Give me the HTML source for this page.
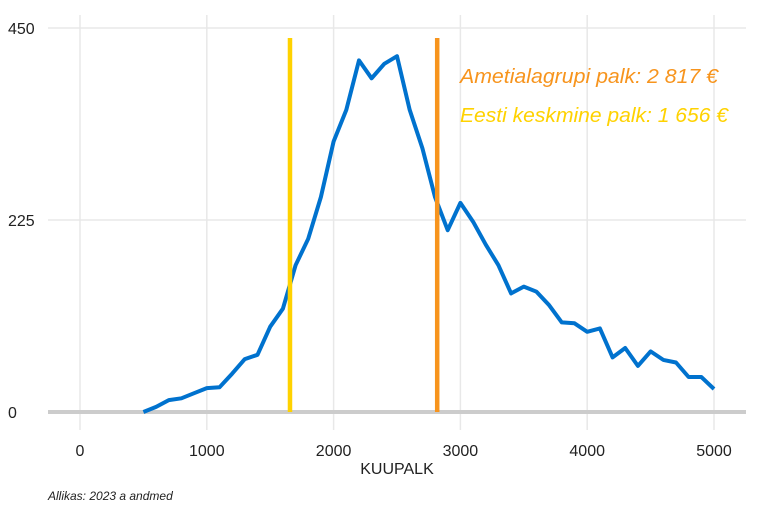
<!DOCTYPE html>
<html><head><meta charset="utf-8"><style>
body{margin:0;background:#fff;font-family:"Liberation Sans",sans-serif}
svg text{font-family:"Liberation Sans",sans-serif}
</style></head><body>
<svg width="768" height="512">
<g id="grid"></g><g id="marks"></g>
<text x="397" y="474" text-anchor="middle" font-size="16" fill="#222">KUUPALK</text>
<text x="48" y="500" font-size="12" font-style="italic" fill="#222">Allikas: 2023 a andmed</text>
<text x="460" y="83" font-size="20" font-style="italic" fill="#f7941d" textLength="258" lengthAdjust="spacingAndGlyphs">Ametialagrupi palk: 2 817 €</text>
<text x="460" y="122" font-size="20" font-style="italic" fill="#ffd200" textLength="268" lengthAdjust="spacingAndGlyphs">Eesti keskmine palk: 1 656 €</text>
</svg>
<script>
const xVals=[500,600,700,800,900,1000,1100,1200,1300,1400,1500,1600,1700,1800,1900,2000,2100,2200,2300,2400,2500,2600,2700,2800,2900,3000,3100,3200,3300,3400,3500,3600,3700,3800,3900,4000,4100,4200,4300,4400,4500,4600,4700,4800,4900,5000];
const counts=[0,6,14,16,22,28,29,45,62,67,100,121,172,203,252,317,354,412,391,408,417,354,309,252,213,245,223,196,172,139,147,141,125,105,104,94,98,64,75,54,71,61,58,41,41,27];
const xTicks=[0,1000,2000,3000,4000,5000];
const yTicks=[0,225,450];
const refLines=[{v:1656,c:"#ffd200",n:"estonia-average-line"},{v:2817,c:"#f7941d",n:"occupation-salary-line"}];
const X=v=>80+v*(634/5000), Y=v=>412-v*(384/450);
const NS="http://www.w3.org/2000/svg";
function mk(t,a,p){const e=document.createElementNS(NS,t);for(const k in a)e.setAttribute(k,a[k]);p.appendChild(e);return e;}
const g=document.getElementById('grid'),m=document.getElementById('marks');
xTicks.forEach(t=>{const l=mk('line',{x1:X(t),x2:X(t),y1:15,y2:430,stroke:'#e8e8e8','stroke-width':1.5},g);


const tx=mk('text',{x:X(t),y:456,'text-anchor':'middle','font-size':16,fill:'#222'},g);tx.textContent=t;

});
yTicks.forEach(t=>{const l=mk('line',{x1:48,x2:746,y1:Y(t),y2:Y(t),stroke:t===0?'#cccccc':'#e8e8e8','stroke-width':t===0?4:1.5},g);


const tx=mk('text',{x:8,y:Y(t)+6,'font-size':16,fill:'#222'},g);tx.textContent=t;

});
const pts=xVals.map((v,i)=>X(v).toFixed(1)+','+Y(counts[i]).toFixed(1)).join(' ');
const pl=mk('polyline',{points:pts,fill:'none',stroke:'#0072ce','stroke-width':4,'stroke-linejoin':'round'},m);


refLines.forEach(r=>{const l=mk('line',{x1:X(r.v),x2:X(r.v),y1:38,y2:412,stroke:r.c,'stroke-width':4.5},m);

});
</script>
</body></html>
